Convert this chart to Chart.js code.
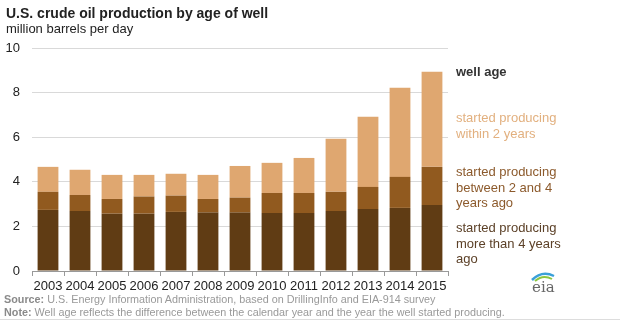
<!DOCTYPE html>
<html>
<head>
<meta charset="utf-8">
<script src="https://cdn.jsdelivr.net/npm/chart.js@4.4.0/dist/chart.umd.min.js"></script>
<style>
  html, body { margin: 0; padding: 0; background: #fff; }
  body { width: 620px; height: 323px; position: relative; overflow: hidden;
         font-family: "Liberation Sans", Arial, sans-serif; }
  #wrap { position: absolute; left: 0; top: 0; width: 620px; height: 323px; }
  .txt { position: absolute; white-space: nowrap; }
  .title { left: 6px; top: 5px; font-size: 14px; font-weight: bold; color: #222; }
  .sub { left: 6px; top: 21px; font-size: 13px; color: #222; }
  .leg { left: 456px; font-size: 13px; line-height: 15.5px; }
  .foot { left: 4px; font-size: 10.8px; color: #999; }
  .foot b { color: #8a8a8a; }
  .rule { position: absolute; left: 0; top: 319px; width: 620px; height: 1px; background: #ddd; }
</style>
</head>
<body>
<div id="wrap"><canvas id="c" width="620" height="323"></canvas></div>
<div class="txt title">U.S. crude oil production by age of well</div>
<div class="txt sub">million barrels per day</div>
<div class="txt leg" style="top:64px;font-weight:bold;color:#333;">well age</div>
<div class="txt leg" style="top:110px;color:#e2b07f;">started producing<br>within 2 years</div>
<div class="txt leg" style="top:164px;color:#8c5a2c;">started producing<br>between 2 and 4<br>years ago</div>
<div class="txt leg" style="top:220px;color:#5c4128;">started producing<br>more than 4 years<br>ago</div>
<div class="txt foot" style="top:293px;"><b>Source:</b> U.S. Energy Information Administration, based on DrillingInfo and EIA-914 survey</div>
<div class="txt foot" style="top:306px;"><b>Note:</b> Well age reflects the difference between the calendar year and the year the well started producing.</div>
<div class="rule"></div>
<svg style="position:absolute;left:526px;top:268px;" width="36" height="26" viewBox="0 0 36 26">
  <path d="M6 12 Q16 2 28 8" stroke="#3aa0d8" stroke-width="2.5" fill="none"/>
  <path d="M9 13 Q17 6 26 11" stroke="#8cc63f" stroke-width="2" fill="none"/>
  <text x="6" y="24" font-family="DejaVu Serif, serif" font-size="15" fill="#666">eia</text>
</svg>
<script>
var anos = ["2003","2004","2005","2006","2007","2008","2009","2010","2011","2012","2013","2014","2015"];
// mais de 4 anos (base da pilha)
var maisDe4 = [2.74, 2.69, 2.57, 2.57, 2.65, 2.62, 2.62, 2.60, 2.60, 2.69, 2.78, 2.83, 2.96];
// entre 2 e 4 anos
var entre2e4 = [0.81, 0.72, 0.66, 0.77, 0.73, 0.61, 0.67, 0.90, 0.90, 0.86, 0.99, 1.39, 1.71];
// até 2 anos (topo)
var ate2 = [1.12, 1.13, 1.08, 0.97, 0.98, 1.08, 1.42, 1.35, 1.57, 2.38, 3.15, 4.00, 4.27];
var yTicks = [0, 2, 4, 6, 8, 10];

var CORES = { escuro: "#603c14", medio: "#915a1f", claro: "#dfa770" };

new Chart(document.getElementById("c"), {
  type: "bar",
  data: {
    labels: anos,
    datasets: [
      { label: "more than 4 years", data: maisDe4, backgroundColor: CORES.escuro },
      { label: "between 2 and 4", data: entre2e4, backgroundColor: CORES.medio },
      { label: "within 2 years", data: ate2, backgroundColor: CORES.claro }
    ]
  },
  options: {
    responsive: false, animation: false,
    layout: { padding: { top: 48, right: 172, left: 0, bottom: 0 } },
    datasets: { bar: { categoryPercentage: 0.65, barPercentage: 1, borderWidth: 0 } },
    plugins: { legend: { display: false }, tooltip: { enabled: false } },
    scales: {
      x: {
        stacked: true,
        grid: { offset: true, drawOnChartArea: false, tickLength: 5, color: "#999" },
        border: { display: true, color: "#999" },
        ticks: { color: "#222", padding: 3, font: { family: "Liberation Sans, Arial", size: 13 }, maxRotation: 0, autoSkip: false },
        afterFit: function (s) { s.height = 52; }
      },
      y: {
        stacked: true, min: 0, max: 10,
        afterBuildTicks: function (s) { s.ticks = yTicks.map(function (v) { return { value: v }; }); },
        grid: { color: "#d9d9d9", drawTicks: false },
        border: { display: false },
        ticks: { color: "#222", padding: 12, font: { family: "Liberation Sans, Arial", size: 13 } },
        afterFit: function (s) { s.width = 32; }
      }
    }
  }
});
</script>
</body>
</html>
